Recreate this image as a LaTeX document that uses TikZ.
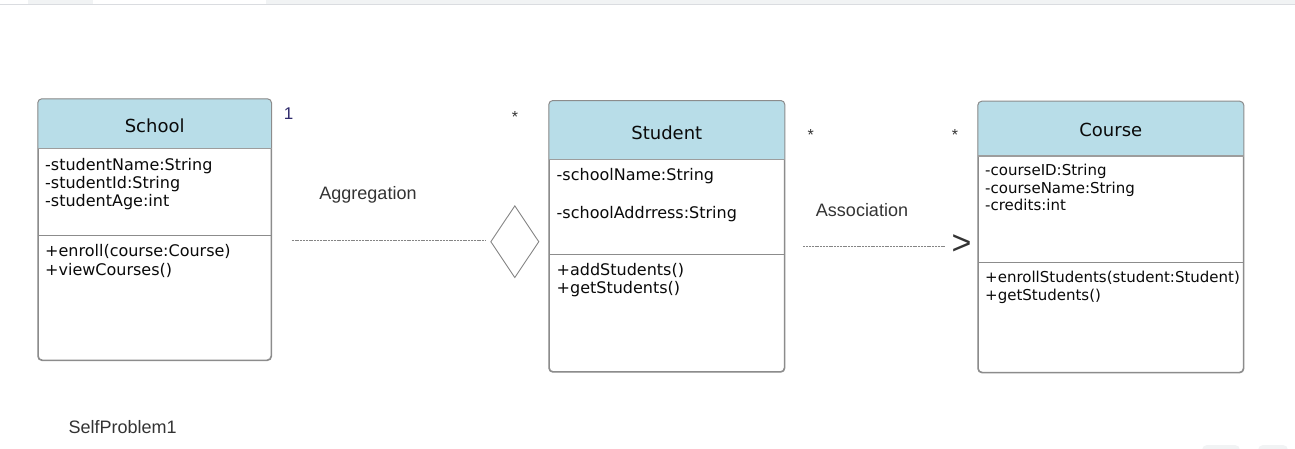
\documentclass[tikz,border=0pt]{standalone}
\usepackage{fontspec}
\setmainfont{DejaVu Sans}
\newfontfamily\arialf{Liberation Sans}
\usetikzlibrary{shapes.geometric}
\definecolor{hdrblue}{HTML}{B8DDE8}
\definecolor{boxline}{HTML}{8C8C8C}
\definecolor{txt}{HTML}{0A0A0A}
\definecolor{lbl}{HTML}{333333}
\definecolor{one}{HTML}{2E2A6B}
\definecolor{dashc}{HTML}{858585}
\definecolor{tabgray}{HTML}{F1F3F4}
\definecolor{tabline}{HTML}{DADCE0}
\tikzset{
  classbox/.style={draw=boxline, line width=1pt, rounded corners=4pt, inner sep=0pt, fill=white},
  divider/.style={draw=boxline, line width=1pt},
  hdrline/.style={draw=boxline!85, line width=1.6pt},
  title/.style={anchor=base, inner sep=0pt, text=txt, font=\fontsize{18}{21}\selectfont},
  attr/.style={anchor=base west, inner sep=0pt, text=txt, font=\fontsize{16}{19}\selectfont},
  attrs/.style={anchor=base west, inner sep=0pt, text=txt, font=\fontsize{15}{18}\selectfont},
  lab/.style={anchor=base, inner sep=0pt, text=lbl, font=\arialf\fontsize{18}{21}\selectfont},
  mult/.style={anchor=center, inner sep=0pt, text=lbl, font=\arialf\fontsize{16}{18}\selectfont},
  dashline/.style={draw=dashc, line width=1.2pt, dash pattern=on 2pt off 0.8pt},
}
\begin{document}
\begin{tikzpicture}[x=1pt,y=-1pt]
\useasboundingbox (0,0) rectangle (1295,448);
% browser tab strip
\fill[tabgray] (28,0) rectangle (93,4);
\fill[tabgray] (266,0) rectangle (1295,4);
\draw[tabline, line width=0.8pt] (0,4.3) -- (1295,4.3);
\fill[tabgray, rounded corners=5pt] (1202,445) rectangle (1240,460);
\fill[tabgray, rounded corners=5pt] (1258,445) rectangle (1288,460);

% ---------- School ----------
\node[classbox, minimum width=232.7pt, minimum height=260.7pt] (school) at (154.65,229.65) {};
\coordinate (schoolH) at (0,148.3);
\coordinate (schoolM) at (0,235);
\begin{scope}
  \clip (school.north west) rectangle (school.east |- schoolH);
  \fill[hdrblue, rounded corners=4pt] (school.north west) rectangle (school.south east);
\end{scope}
\draw[boxline, line width=1pt, rounded corners=4pt] (school.north west) rectangle (school.south east);
\draw[hdrline] (school.west |- schoolH) -- (school.east |- schoolH);
\draw[divider] (school.west |- schoolM) -- (school.east |- schoolM);
\node[title] (schoolT) at (154.65,132.3) {School};
\node[attr] (sa1) at (45,170) {-studentName:String};
\node[attr] (sa2) at (45,188.3) {-studentId:String};
\node[attr] (sa3) at (45,206.7) {-studentAge:int};
\node[attr] (sm1) at (45,256.7) {+enroll(course:Course)};
\node[attr] (sm2) at (45,275) {+viewCourses()};

% ---------- Student ----------
\node[classbox, minimum width=235pt, minimum height=270.7pt] (student) at (666.8,236.35) {};
\coordinate (studentH) at (0,159.3);
\coordinate (studentM) at (0,254);
\begin{scope}
  \clip (student.north west) rectangle (student.east |- studentH);
  \fill[hdrblue, rounded corners=4pt] (student.north west) rectangle (student.south east);
\end{scope}
\draw[boxline, line width=1pt, rounded corners=4pt] (student.north west) rectangle (student.south east);
\draw[hdrline] (student.west |- studentH) -- (student.east |- studentH);
\draw[divider] (student.west |- studentM) -- (student.east |- studentM);
\node[title] (studentT) at (666.8,139.3) {Student};
\node[attr] (ta1) at (556.5,180) {-schoolName:String};
\node[attr] (ta2) at (556.5,218.3) {-schoolAddrress:String};
\node[attr] (tm1) at (556.5,275) {+addStudents()};
\node[attr] (tm2) at (556.5,293) {+getStudents()};

% ---------- Course ----------
\node[classbox, minimum width=265pt, minimum height=270.6pt] (course) at (1110.8,237) {};
\coordinate (courseH) at (0,156);
\coordinate (courseM) at (0,262.3);
\begin{scope}
  \clip (course.north west) rectangle (course.east |- courseH);
  \fill[hdrblue, rounded corners=4pt] (course.north west) rectangle (course.south east);
\end{scope}
\draw[boxline, line width=1pt, rounded corners=4pt] (course.north west) rectangle (course.south east);
\draw[hdrline] (course.west |- courseH) -- (course.east |- courseH);
\draw[divider] (course.west |- courseM) -- (course.east |- courseM);
\node[title] (courseT) at (1110.8,136.7) {Course};
\node[attrs] (ca1) at (985,175.7) {-courseID:String};
\node[attrs] (ca2) at (985,193.3) {-courseName:String};
\node[attrs] (ca3) at (985,210.7) {-credits:int};
\node[attrs] (cm1) at (985,282.7) {+enrollStudents(student:Student)};
\node[attrs] (cm2) at (985,300) {+getStudents()};

% ---------- Aggregation ----------
\node[diamond, draw=dashc, line width=0.9pt, minimum width=48.3pt, minimum height=72pt, inner sep=0pt] (agg) at (514.8,241.7) {};
\coordinate (aggS) at (291.7,240.7);
\draw[dashline] (aggS) -- ([xshift=-4pt]agg.west |- aggS);
\node[lab] (aggL) at (368,199) {Aggregation};
\node[anchor=base, inner sep=0pt, text=one, font=\arialf\fontsize{17}{20}\selectfont] (m1) at (288.5,119) {1};
\node[mult] (m2) at (515,117) {*};

% ---------- Association ----------
\node[anchor=base west, inner sep=0pt, text=lbl, font=\arialf\fontsize{34}{38}\selectfont] (arr) at (951.5,254) {>};
\coordinate (assS) at (803.3,246.7);
\draw[dashline] (assS) -- ([xshift=-6pt]arr.west |- assS);
\node[lab] (assL) at (862,216.7) {Association};
\node[mult] (m3) at (810.7,134.5) {*};
\node[mult] (m4) at (955,134.5) {*};

% ---------- caption ----------
\node[anchor=base west, inner sep=0pt, text=lbl, font=\arialf\fontsize{18}{21}\selectfont] (cap) at (68.3,433.3) {SelfProblem1};
\end{tikzpicture}
\end{document}
